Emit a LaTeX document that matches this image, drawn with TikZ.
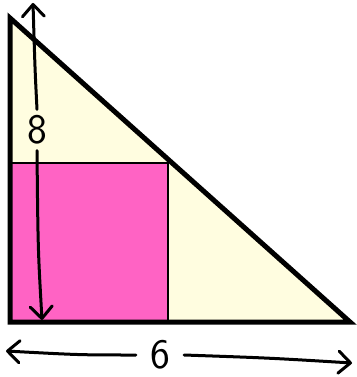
\documentclass[tikz,border=0pt]{standalone}
\usetikzlibrary{arrows.meta}
\definecolor{cream}{RGB}{255,253,224}
\definecolor{pinkfill}{RGB}{255,99,196}
\tikzset{
  tri/.style={line width=5pt,line join=miter},
  sq/.style={line width=2pt,fill=pinkfill},
  arr/.style={line width=3pt,line cap=round,-{Straight Barb[length=12pt,width=22pt,line width=3pt,round]}},
  digit/.style={font=\sffamily\fontsize{42}{42}\selectfont,inner ysep=2pt}
}
\begin{document}
\begin{tikzpicture}[x=1pt,y=-1pt]
\useasboundingbox (0,0) rectangle (356,377);
\coordinate (A) at (10,18);
\coordinate (B) at (10,322);
\coordinate (C) at (350,322);
\fill[cream] (A)--(B)--(C)--cycle;
\draw[sq] (10,163) rectangle (168,322);
\draw[tri] (A)--(B)--(C)--cycle;
\node[digit,inner xsep=2pt,inner ysep=6pt] (n8) at (37,130) {8};
\node[digit,inner xsep=14pt] (n6) at (160,355) {6};
\coordinate (t8) at (33,3);
\coordinate (b8) at (42,320);
\coordinate (l6) at (6,351);
\coordinate (r6) at (352,363);
\draw[arr] (n8.north) .. controls (35,70) .. (t8);
\draw[arr] (n8.south) .. controls (38,250) .. (b8);
\draw[arr] (n6.west) .. controls (80,355) .. (l6);
\draw[arr] (n6.east) .. controls (270,358) .. (r6);
\end{tikzpicture}
\end{document}
